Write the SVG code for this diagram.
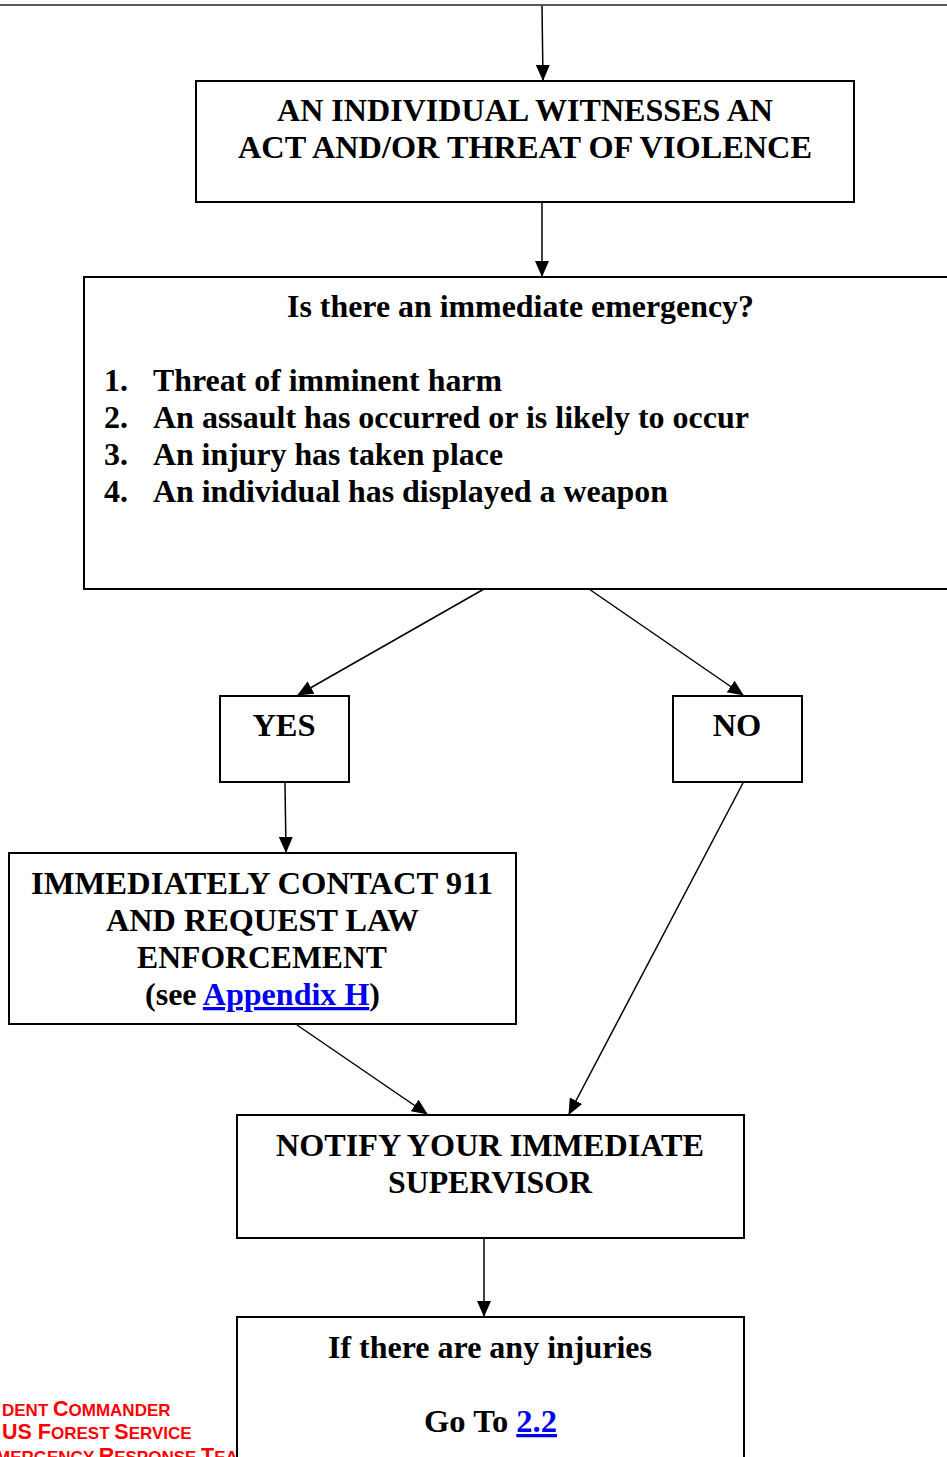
<svg xmlns="http://www.w3.org/2000/svg" width="947" height="1457" viewBox="0 0 947 1457">
<style>
.box{fill:#fff;stroke:#000;stroke-width:2}
.t{font-family:"Liberation Serif","Times New Roman",serif;font-weight:bold;fill:#000}
.k{font-size:32.5px}
.s{font-size:32px}
.c{text-anchor:middle}
.lnk{fill:#0000ee;text-decoration:underline}
.con{stroke:#000;stroke-width:1.5;fill:none;marker-end:url(#ah)}
.red{font-family:"Liberation Sans",Arial,sans-serif;font-weight:bold;fill:#ff0000;font-size:17px}
.cap{font-size:21.5px}
</style>
<defs>
<marker id="ah" markerUnits="userSpaceOnUse" markerWidth="16" markerHeight="16" viewBox="0 0 16 16" refX="15" refY="8" orient="auto">
<path d="M0,1 L16,8 L0,15 Z" fill="#000"/>
</marker>
</defs>
<rect width="947" height="1457" fill="#fff"/>
<line x1="0" y1="5" x2="947" y2="5" stroke="#222" stroke-width="1.5"/>
<g id="footer">
<text class="red" x="2" y="1416">DENT <tspan class="cap">C</tspan>OMMANDER</text>
<text class="red" x="2" y="1439"><tspan class="cap">US F</tspan>OREST <tspan class="cap">S</tspan>ERVICE</text>
<text class="red" x="-4" y="1463">MERGENCY <tspan class="cap">R</tspan>ESPONSE <tspan class="cap">T</tspan>EAM</text>
</g>
<g id="connectors">
<line class="con" x1="542" y1="6" x2="543" y2="80"/>
<line class="con" x1="542" y1="203" x2="542" y2="276"/>
<line class="con" x1="484" y1="589" x2="298" y2="695"/>
<line class="con" x1="589" y1="589" x2="743" y2="695"/>
<line class="con" x1="285" y1="783" x2="286" y2="852"/>
<line class="con" x1="297" y1="1025" x2="427" y2="1114"/>
<line class="con" x1="743" y1="783" x2="569" y2="1114"/>
<line class="con" x1="484" y1="1239" x2="484" y2="1316"/>
</g>
<g id="witness">
<rect class="box" x="196" y="81" width="658" height="121"/>
<text class="t k" x="277" y="121" textLength="496" lengthAdjust="spacingAndGlyphs">AN INDIVIDUAL WITNESSES AN</text>
<text class="t k" x="238" y="158" textLength="574" lengthAdjust="spacingAndGlyphs">ACT AND/OR THREAT OF VIOLENCE</text>
</g>
<g id="emergency">
<rect class="box" x="84" y="277" width="880" height="312"/>
<text class="t s" x="287" y="317" textLength="467" lengthAdjust="spacingAndGlyphs">Is there an immediate emergency?</text>
<text class="t s" x="104" y="391">1.</text>
<text class="t s" x="153" y="391" textLength="349" lengthAdjust="spacingAndGlyphs">Threat of imminent harm</text>
<text class="t s" x="104" y="428">2.</text>
<text class="t s" x="153" y="428" textLength="596" lengthAdjust="spacingAndGlyphs">An assault has occurred or is likely to occur</text>
<text class="t s" x="104" y="465">3.</text>
<text class="t s" x="153" y="465" textLength="350" lengthAdjust="spacingAndGlyphs">An injury has taken place</text>
<text class="t s" x="104" y="502">4.</text>
<text class="t s" x="153" y="502" textLength="515" lengthAdjust="spacingAndGlyphs">An individual has displayed a weapon</text>
</g>
<g id="yes">
<rect class="box" x="220" y="696" width="129" height="86"/>
<text class="t k c" x="284" y="736">YES</text>
</g>
<g id="no">
<rect class="box" x="673" y="696" width="129" height="86"/>
<text class="t k c" x="737" y="736">NO</text>
</g>
<g id="contact911">
<rect class="box" x="9" y="853" width="507" height="171"/>
<text class="t k" x="31" y="894" textLength="462" lengthAdjust="spacingAndGlyphs">IMMEDIATELY CONTACT 911</text>
<text class="t k" x="106" y="931" textLength="313" lengthAdjust="spacingAndGlyphs">AND REQUEST LAW</text>
<text class="t k" x="137" y="968" textLength="250" lengthAdjust="spacingAndGlyphs">ENFORCEMENT</text>
<text class="t k" x="145" y="1005" textLength="235" lengthAdjust="spacingAndGlyphs">(see <tspan class="lnk">Appendix H</tspan>)</text>
</g>
<g id="notify">
<rect class="box" x="237" y="1115" width="507" height="123"/>
<text class="t k" x="276" y="1156" textLength="428" lengthAdjust="spacingAndGlyphs">NOTIFY YOUR IMMEDIATE</text>
<text class="t k" x="388" y="1193" textLength="204" lengthAdjust="spacingAndGlyphs">SUPERVISOR</text>
</g>
<g id="injuries">
<rect class="box" x="237" y="1317" width="507" height="160"/>
<text class="t k" x="328" y="1358" textLength="324" lengthAdjust="spacingAndGlyphs">If there are any injuries</text>
<text class="t k" x="424" y="1432" textLength="133" lengthAdjust="spacingAndGlyphs">Go To <tspan class="lnk">2.2</tspan></text>
</g>
</svg>
